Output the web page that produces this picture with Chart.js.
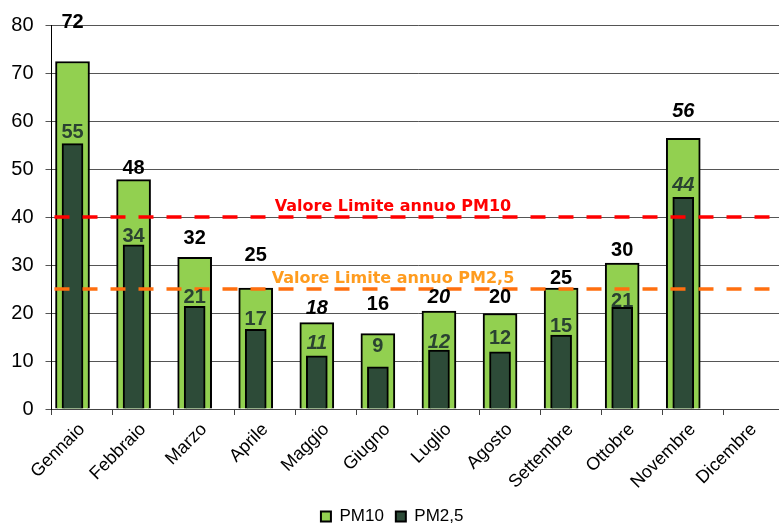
<!DOCTYPE html>
<html>
<head>
<meta charset="utf-8">
<script src="https://cdn.jsdelivr.net/npm/chart.js@4.4.1/dist/chart.umd.min.js"></script>
<style>
  html, body { margin: 0; padding: 0; background: #fff; overflow: hidden; }
  #wrap { width: 786px; height: 524px; }
</style>
</head>
<body>
<div id="wrap"><canvas id="chart" width="786" height="524"></canvas></div>
<script>
// monthly means
const months = ["Gennaio", "Febbraio", "Marzo", "Aprile", "Maggio", "Giugno",
  "Luglio", "Agosto", "Settembre", "Ottobre", "Novembre", "Dicembre"];
const pm10 = [72.4, 47.8, 31.6, 25.2, 18.0, 15.7, 20.4, 19.9, 25.2, 30.4, 56.4, null];
const pm25 = [55.3, 34.2, 21.4, 16.6, 11.1, 8.8, 12.3, 11.9, 15.4, 21.2, 44.1, null];
const limitPM10 = 40;
const limitPM25 = 25;

// label tweaks (not data): months shown in italic, extra lift of the value labels in px
const italicMonths = [4, 6, 10];
const pm10Lift = [33, 6, 13, 27, 9, 24, 8, 10, 4, 7, 21];
const pm25Lift = [6, 3, 3, 4, 7, 15, 2, 8, 3, 0, 6];

const GREEN = "#92d050";
const DARK = "#2d4b38";
const FONT = "'Liberation Sans', Arial, sans-serif";

const toPoints = arr => arr
  .map((v, i) => (v == null ? null : { x: i, y: v }))
  .filter(p => p);

const limitLines = {
  id: "limitLines",
  afterDatasetsDraw(chart) {
    const { ctx, chartArea: a, scales: { y } } = chart;
    const lines = [
      { v: limitPM10, line: "#ff0000", text: "#ff0000", label: "Valore Limite annuo PM10" },
      { v: limitPM25, line: "#ff6f0f", text: "#ff9c1f", label: "Valore Limite annuo PM2,5" }
    ];
    ctx.save();
    lines.forEach(l => {
      const py = y.getPixelForValue(l.v);
      ctx.save();
      ctx.beginPath();
      ctx.rect(a.left, a.top, a.right - a.left, a.bottom - a.top);
      ctx.clip();
      ctx.strokeStyle = l.line;
      ctx.lineWidth = 3.5;
      ctx.setLineDash([15, 13]);
      ctx.beginPath();
      ctx.moveTo(a.left + 3, py);
      ctx.lineTo(a.right, py);
      ctx.stroke();
      ctx.restore();
      ctx.fillStyle = l.text;
      ctx.font = "bold 16px 'DejaVu Sans', Verdana, sans-serif";
      ctx.textAlign = "center";
      ctx.textBaseline = "alphabetic";
      ctx.fillText(l.label, 393, py - 6);
    });
    ctx.restore();
  }
};

const valueLabels = {
  id: "valueLabels",
  afterDraw(chart) {
    const { ctx } = chart;
    const sets = [
      { idx: 0, src: pm10, lift: pm10Lift, color: "#000000" },
      { idx: 1, src: pm25, lift: pm25Lift, color: "#2a4231" }
    ];
    ctx.save();
    ctx.textAlign = "center";
    ctx.textBaseline = "alphabetic";
    sets.forEach(s => {
      const meta = chart.getDatasetMeta(s.idx);
      meta.data.forEach((el, k) => {
        const i = meta._parsed[k].x;
        const v = s.src[i];
        ctx.font = (italicMonths.includes(i) ? "italic " : "") + "bold 20px " + FONT;
        ctx.fillStyle = s.color;
        ctx.fillText(Math.round(v), el.x, el.y - s.lift[i]);
      });
    });
    ctx.restore();
  }
};

new Chart(document.getElementById("chart"), {
  type: "bar",
  data: {
    labels: months,
    datasets: [
      {
        label: "PM10",
        data: toPoints(pm10),
        xAxisID: "xb",
        backgroundColor: GREEN,
        borderColor: "#000",
        borderWidth: 2,
        barThickness: 34,
        grouped: false,
        order: 2
      },
      {
        label: "PM2,5",
        data: toPoints(pm25),
        xAxisID: "xb",
        backgroundColor: DARK,
        borderColor: "#000",
        borderWidth: 2,
        barThickness: 21,
        grouped: false,
        order: 1
      }
    ]
  },
  options: {
    responsive: false,
    animation: false,
    devicePixelRatio: 1,
    layout: { padding: { top: 25, right: 1.6, left: 0, bottom: -11 } },
    scales: {
      x: {
        type: "category",
        offset: true,
        grid: { offset: true, drawOnChartArea: false, drawTicks: true, tickLength: 6, color: "#444" },
        border: { color: "#444", width: 1 },
        ticks: {
          color: "#000",
          font: { family: FONT, size: 18 },
          maxRotation: 45,
          minRotation: 45,
          padding: 4,
          autoSkip: false
        },
        afterFit: s => { s.height = 87; }
      },
      xb: {
        type: "linear",
        axis: "x",
        display: false,
        offset: false,
        grid: { offset: false },
        min: -0.344,
        max: 11.656
      },
      y: {
        min: 0,
        max: 80,
        ticks: { stepSize: 10, color: "#000", font: { family: FONT, size: 20 }, padding: 12 },
        grid: { color: "#555", lineWidth: 1, tickLength: 6 },
        border: { color: "#000", width: 1 },
        afterFit: s => { s.width = 51.5; }
      }
    },
    plugins: {
      tooltip: { enabled: false },
      legend: {
        position: "bottom",
        labels: {
          color: "#000",
          font: { family: FONT, size: 17 },
          boxWidth: 10,
          boxHeight: 10,
          padding: 12,
          sort: (a, b) => a.datasetIndex - b.datasetIndex
        }
      }
    }
  },
  plugins: [limitLines, valueLabels]
});
</script>
</body>
</html>
